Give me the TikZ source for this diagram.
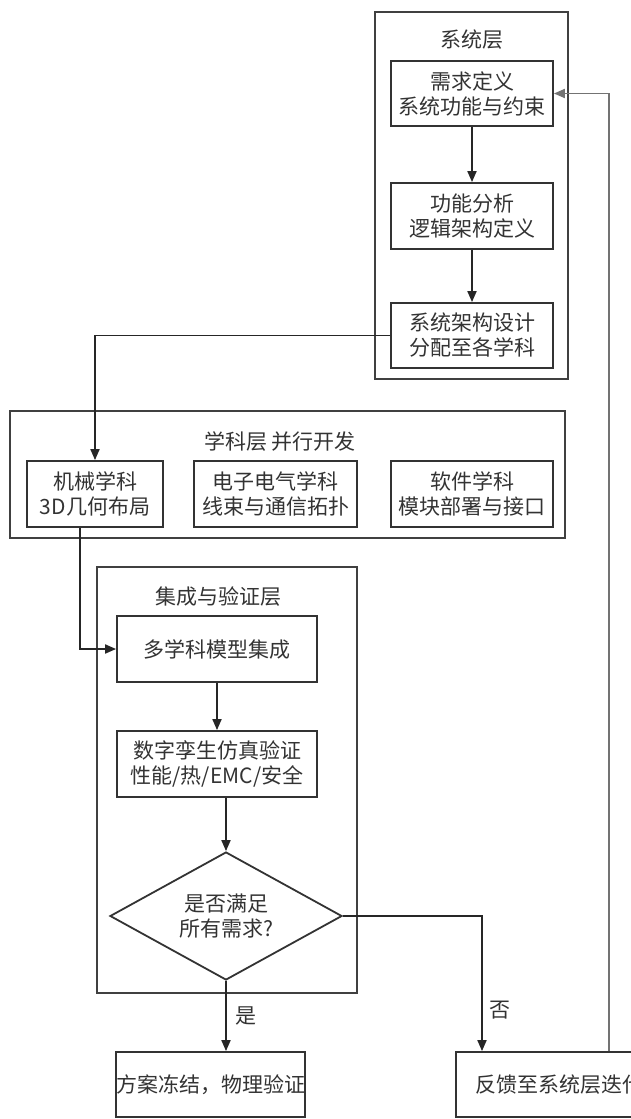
\documentclass[tikz,border=0pt]{standalone}
\usepackage{fontspec}
\setmainfont{Noto Sans CJK SC}
\usetikzlibrary{arrows.meta,shapes.geometric}
\begin{document}
\begin{tikzpicture}[x=1pt,y=-1pt,
  every node/.style={font=\fontsize{21}{25}\selectfont, text=black!80},
  frame/.style={draw=black!75, line width=1.8pt, inner sep=0pt},
  boxnode/.style={draw=black!80, line width=1.8pt, align=center, inner sep=0pt},
  ttl/.style={inner sep=0pt},
  conn/.style={draw=black!85, line width=1.8pt, -{Triangle[length=11pt,width=9pt]}},
  fb/.style={draw=black!55, line width=1.8pt, -{Triangle[length=11pt,width=9pt]}}]
\useasboundingbox (0,0) rectangle (630,1119);
% system layer
\node[frame, minimum width=193pt, minimum height=367pt] (sys) at (471.5,195.5) {};
\node[ttl] (systitle) at (472,40) {系统层};
\node[boxnode, minimum width=162pt, minimum height=65pt] (b1) at (472,93.5) {需求定义\\系统功能与约束};
\node[boxnode, minimum width=162pt, minimum height=66pt] (b2) at (472,216) {功能分析\\逻辑架构定义};
\node[boxnode, minimum width=162pt, minimum height=65pt] (b3) at (472,335.5) {系统架构设计\\分配至各学科};
% discipline layer
\node[frame, minimum width=555pt, minimum height=127pt] (disc) at (287.5,474.5) {};
\node[ttl] (disctitle) at (280,442) {学科层 并行开发};
\node[boxnode, minimum width=136pt, minimum height=66pt] (mech) at (95,494) {机械学科\\3D几何布局};
\node[boxnode, minimum width=163pt, minimum height=66pt] (elec) at (275.5,494) {电子电气学科\\线束与通信拓扑};
\node[boxnode, minimum width=162pt, minimum height=66pt] (soft) at (472,494) {软件学科\\模块部署与接口};
% integration layer
\node[frame, minimum width=260pt, minimum height=426pt] (intg) at (227,780) {};
\node[ttl] (intgtitle) at (218,597) {集成与验证层};
\node[boxnode, minimum width=200pt, minimum height=66pt] (int1) at (217,649) {多学科模型集成};
\node[boxnode, minimum width=200pt, minimum height=66pt] (int2) at (217,764) {数字孪生仿真验证\\性能/热/EMC/安全};
\node[draw=black!80, line width=1.8pt, shape=diamond, shape aspect=1.8, minimum width=232pt, minimum height=128pt, inner sep=0pt, align=center] (dia) at (226,916) {是否满足\\所有需求?};
% outcomes
\node[boxnode, minimum width=189pt, minimum height=65pt] (freeze) at (210.5,1084.5) {方案冻结，物理验证};
\node[boxnode, minimum width=206pt, minimum height=65pt] (fbk) at (559,1084.5) {反馈至系统层迭代};
\coordinate (nocorner) at (482,916);
% connectors
\draw[conn] (b1) -- (b2);
\draw[conn] (b2) -- (b3);
\draw[conn] (b3.west) -| (mech.north);
\draw[conn] ([xshift=-15pt]mech.south) |- (int1.west);
\draw[conn] (int1) -- (int2);
\draw[conn] (int2.south -| dia.north) -- (dia.north);
\draw[conn] (dia.south) -- node[right, ttl, xshift=9pt] {是} (freeze.north -| dia.south);
\draw[conn] (dia.east) -- (nocorner) -- node[right, ttl, xshift=7pt, pos=0.7] {否} (nocorner |- fbk.north);
\draw[fb] ([xshift=50pt]fbk.north) |- (b1.east);
\end{tikzpicture}
\end{document}
